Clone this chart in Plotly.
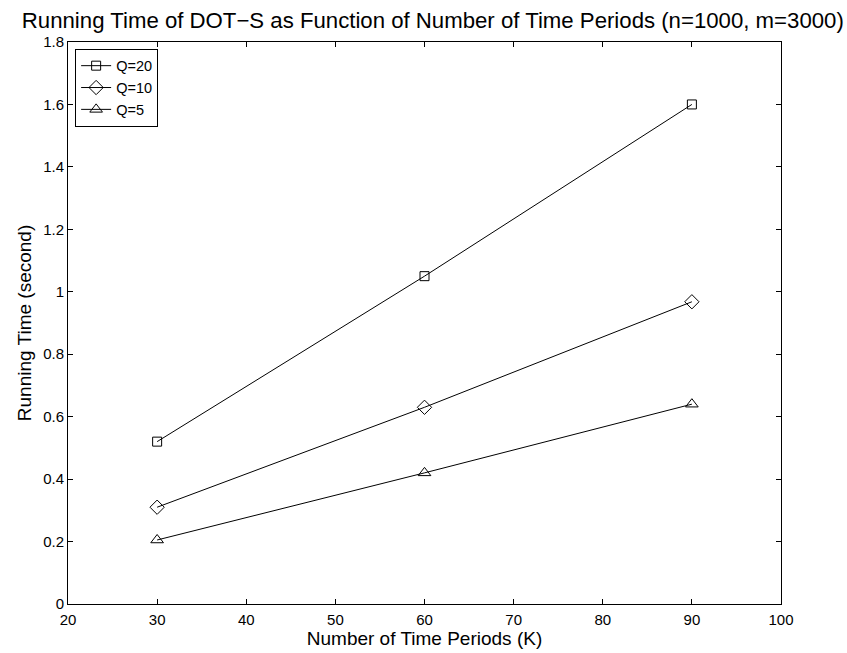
import plotly.graph_objects as go

# Running time measurements (seconds) for DOT-S at three values of Q
periods = [30, 60, 90]
time_q20 = [0.52, 1.05, 1.60]
time_q10 = [0.31, 0.63, 0.968]
time_q5 = [0.205, 0.42, 0.64]

series = [
    ("Q=20", time_q20, "square-open", 9),
    ("Q=10", time_q10, "diamond-open", 11),
    ("Q=5", time_q5, "triangle-up-open", 11),
]

x_ticks = [20, 30, 40, 50, 60, 70, 80, 90, 100]
y_ticks = [0, 0.2, 0.4, 0.6, 0.8, 1.0, 1.2, 1.4, 1.6, 1.8]
y_tick_text = ["0", "0.2", "0.4", "0.6", "0.8", "1", "1.2", "1.4", "1.6", "1.8"]

font_family = "Liberation Sans, Arial, Helvetica, sans-serif"

fig = go.Figure()
for name, values, symbol, size in series:
    fig.add_trace(go.Scatter(
        x=periods, y=values, name=name, mode="lines+markers",
        line=dict(color="black", width=1),
        marker=dict(symbol=symbol, size=size, color="black",
                    line=dict(color="black", width=1)),
    ))

axis_common = dict(
    showline=True, linecolor="black", linewidth=1, mirror="ticks",
    ticks="inside", ticklen=5, tickcolor="black", tickwidth=1,
    showgrid=False, zeroline=False, automargin=False,
    tickfont=dict(family=font_family, size=15, color="black"),
)

fig.update_layout(
    width=847, height=653,
    margin=dict(l=68, r=66, t=42, b=49),
    paper_bgcolor="white", plot_bgcolor="white",
    font=dict(family=font_family, color="black"),
    title=dict(
        text="Running Time of DOT\u2212S as Function of Number of Time Periods (n=1000, m=3000)",
        font=dict(family=font_family, size=22.2, color="black"),
        x=0.511, xanchor="center", y=0.969, yanchor="middle",
    ),
    xaxis=dict(
        range=[20, 100], tickvals=x_ticks, ticklabelstandoff=2,
        title=dict(text="Number of Time Periods (K)", standoff=4,
                   font=dict(family=font_family, size=19, color="black")),
        **axis_common,
    ),
    yaxis=dict(
        range=[0, 1.8], tickvals=y_ticks, ticktext=y_tick_text,
        title=dict(text="Running Time (second)", standoff=6,
                   font=dict(family=font_family, size=19, color="black")),
        **axis_common,
    ),
    legend=dict(
        x=0.01, y=0.988, xanchor="left", yanchor="top",
        bgcolor="white", bordercolor="black", borderwidth=1,
        font=dict(family=font_family, size=14.5, color="black"),
        tracegroupgap=0, itemwidth=30,
    ),
    showlegend=True,
)

fig.write_html("out.html")
